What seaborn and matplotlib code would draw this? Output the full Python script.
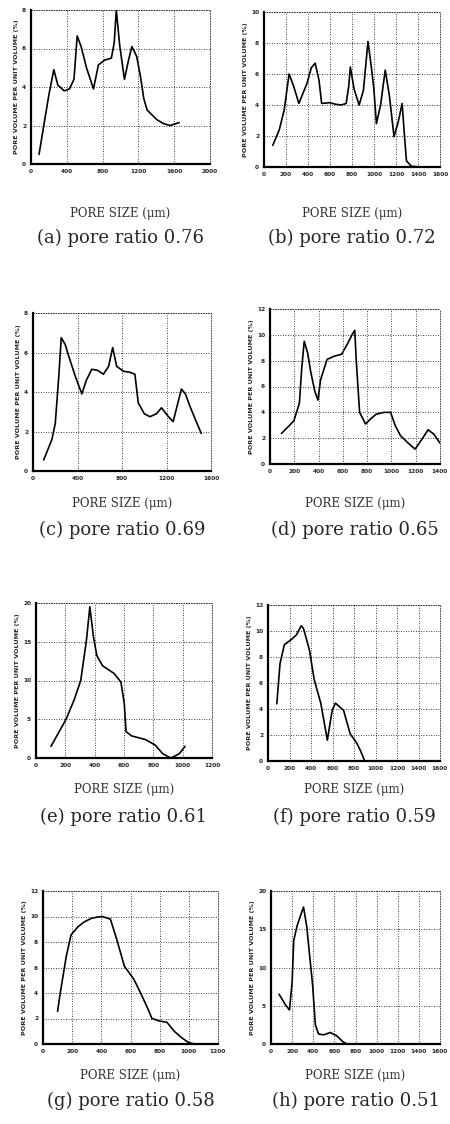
import matplotlib
matplotlib.use("Agg")
import matplotlib.pyplot as plt
import seaborn as sns

sns.set_style("white")
plt.rcParams['font.family'] = ['DejaVu Sans']

# ---- data ----
a_x = [90, 150, 200, 255, 300, 371, 430, 480, 516, 560, 620, 698, 753, 825, 898, 930, 953, 990, 1044, 1090, 1127, 1180, 1225, 1260, 1298, 1407, 1480, 1553, 1655]
a_y = [0.5, 2.2, 3.6, 4.9, 4.1, 3.8, 3.9, 4.4, 6.65, 6.1, 5.0, 3.9, 5.15, 5.4, 5.5, 6.3, 8.0, 6.2, 4.4, 5.4, 6.1, 5.6, 4.5, 3.4, 2.8, 2.3, 2.1, 2.0, 2.15]

b_x = [80, 139, 184, 228, 270, 317, 391, 430, 465, 500, 524, 598, 650, 702, 747, 770, 785, 820, 865, 904, 945, 975, 998, 1022, 1060, 1102, 1140, 1182, 1220, 1256, 1275, 1295, 1339, 1428, 1600]
b_y = [1.4, 2.4, 3.7, 6.0, 5.2, 4.1, 5.4, 6.4, 6.7, 5.6, 4.1, 4.15, 4.05, 4.0, 4.1, 5.2, 6.45, 5.0, 4.0, 4.95, 8.1, 6.5, 5.1, 2.8, 4.0, 6.25, 4.6, 1.95, 2.9, 4.1, 2.2, 0.4, 0.05, 0.0, 0.0]

c_x = [96, 170, 200, 230, 254, 290, 319, 380, 439, 480, 528, 580, 633, 680, 716, 752, 812, 870, 916, 946, 1000, 1051, 1110, 1155, 1210, 1260, 1300, 1334, 1370, 1409, 1460, 1513]
c_y = [0.56, 1.6, 2.4, 4.65, 6.75, 6.4, 5.85, 4.8, 3.9, 4.6, 5.15, 5.1, 4.9, 5.3, 6.25, 5.3, 5.05, 5.0, 4.9, 3.45, 2.9, 2.75, 2.9, 3.2, 2.8, 2.5, 3.4, 4.15, 3.9, 3.3, 2.6, 1.9]

d_x = [94, 196, 242, 262, 282, 310, 336, 370, 395, 416, 470, 530, 590, 644, 675, 698, 711, 738, 787, 830, 873, 940, 993, 1030, 1074, 1140, 1195, 1250, 1302, 1350, 1401]
d_y = [2.36, 3.33, 4.7, 7.5, 9.5, 8.6, 7.1, 5.6, 4.95, 6.5, 8.1, 8.35, 8.5, 9.4, 10.0, 10.35, 7.9, 4.0, 3.1, 3.5, 3.85, 4.0, 4.0, 3.0, 2.2, 1.6, 1.15, 1.9, 2.65, 2.3, 1.6]

e_x = [102, 205, 260, 305, 344, 367, 392, 415, 454, 533, 579, 602, 614, 652, 743, 811, 864, 920, 977, 1016]
e_y = [1.5, 5.0, 7.5, 10.0, 15.2, 19.5, 15.6, 13.2, 11.9, 10.9, 9.8, 7.0, 3.4, 2.85, 2.4, 1.7, 0.55, 0.0, 0.55, 1.5]

f_x = [82, 112, 152, 218, 264, 309, 330, 385, 430, 491, 552, 597, 627, 703, 764, 824, 860, 900]
f_y = [4.4, 7.5, 8.95, 9.35, 9.7, 10.4, 10.2, 8.55, 6.25, 4.45, 1.6, 3.9, 4.45, 3.9, 2.1, 1.4, 0.8, 0.0]

g_x = [100, 119, 160, 192, 240, 279, 330, 370, 405, 462, 507, 558, 622, 667, 710, 747, 800, 850, 900, 950, 1000, 1040]
g_y = [2.56, 4.05, 6.9, 8.55, 9.2, 9.55, 9.85, 9.95, 10.0, 9.8, 8.15, 6.1, 5.1, 4.05, 3.0, 2.0, 1.8, 1.7, 1.0, 0.5, 0.1, 0.0]

h_x = [77, 138, 175, 200, 215, 246, 280, 308, 338, 375, 394, 420, 450, 500, 560, 620, 680, 720]
h_y = [6.5, 5.1, 4.45, 8.1, 13.5, 15.4, 16.8, 17.9, 15.4, 10.3, 7.7, 2.5, 1.3, 1.2, 1.5, 1.1, 0.3, 0.0]

captions = ["(a) pore ratio 0.76", "(b) pore ratio 0.72",
            "(c) pore ratio 0.69", "(d) pore ratio 0.65",
            "(e) pore ratio 0.61", "(f) pore ratio 0.59",
            "(g) pore ratio 0.58", "(h) pore ratio 0.51"]

xticks = [range(0, 2001, 400), range(0, 1601, 200),
          range(0, 1601, 400), range(0, 1401, 200),
          range(0, 1201, 200), range(0, 1601, 200),
          range(0, 1201, 200), range(0, 1601, 200)]
yticks = [range(0, 9, 2), range(0, 11, 2),
          range(0, 9, 2), range(0, 13, 2),
          range(0, 21, 5), range(0, 13, 2),
          range(0, 13, 2), range(0, 21, 5)]

series = [(a_x, a_y), (b_x, b_y), (c_x, c_y), (d_x, d_y),
          (e_x, e_y), (f_x, f_y), (g_x, g_y), (h_x, h_y)]

# axes boxes in pixels: left, top, right, bottom
boxes = [(31, 10, 210, 164), (264, 12, 440, 167),
         (33, 313, 211, 471), (270, 309, 440, 464),
         (36, 603, 212, 758), (268, 605, 440, 761),
         (43, 891, 218, 1044), (271, 891, 440, 1044)]
# y pixel of "PORE SIZE" line and of caption line, per row
label_rows = [(214, 238), (503, 530), (790, 817), (1075, 1101)]

W, H = 450, 1124
fig = plt.figure(figsize=(W / 100, H / 100), dpi=100)
fig.patch.set_facecolor("white")

for i, ((xs, ys), box) in enumerate(zip(series, boxes)):
    l, t, r, b = box
    ax = fig.add_axes([l / W, 1 - b / H, (r - l) / W, (b - t) / H])
    sns.lineplot(x=xs, y=ys, ax=ax, color="black", linewidth=1.2,
                 sort=False, estimator=None)
    xt = list(xticks[i])
    yt = list(yticks[i])
    ax.set_xlim(xt[0], xt[-1])
    ax.set_ylim(yt[0], yt[-1])
    ax.set_xticks(xt)
    ax.set_yticks(yt)
    ax.tick_params(labelsize=4.2, length=2, width=0.8, pad=1.5)
    for lab in ax.get_xticklabels() + ax.get_yticklabels():
        lab.set_fontweight("bold")
    ax.grid(True, color="black", linestyle=(0, (1, 2)), linewidth=0.6)
    for s in ["top", "right"]:
        ax.spines[s].set_linestyle((0, (1, 2)))
        ax.spines[s].set_linewidth(0.6)
    for s in ["left", "bottom"]:
        ax.spines[s].set_linewidth(1.6)
        ax.spines[s].set_color("black")
    ax.set_ylabel("PORE VOLUME PER UNIT VOLUME (%)", fontsize=4.6,
                  fontweight="bold", labelpad=2)
    ax.set_xlabel("")

    cx = (l + r) / 2 / W
    ys_lab, ys_cap = label_rows[i // 2]
    fig.text(cx, 1 - ys_lab / H, "PORE SIZE (\u03bcm)", ha="center",
             va="center", fontsize=8.5, color="#333333",
             family=["DejaVu Serif"])
    fig.text(cx, 1 - ys_cap / H, captions[i], ha="center", va="center",
             fontsize=13, family=["DejaVu Serif"])

fig.savefig("out.png", dpi=100, facecolor="white")
